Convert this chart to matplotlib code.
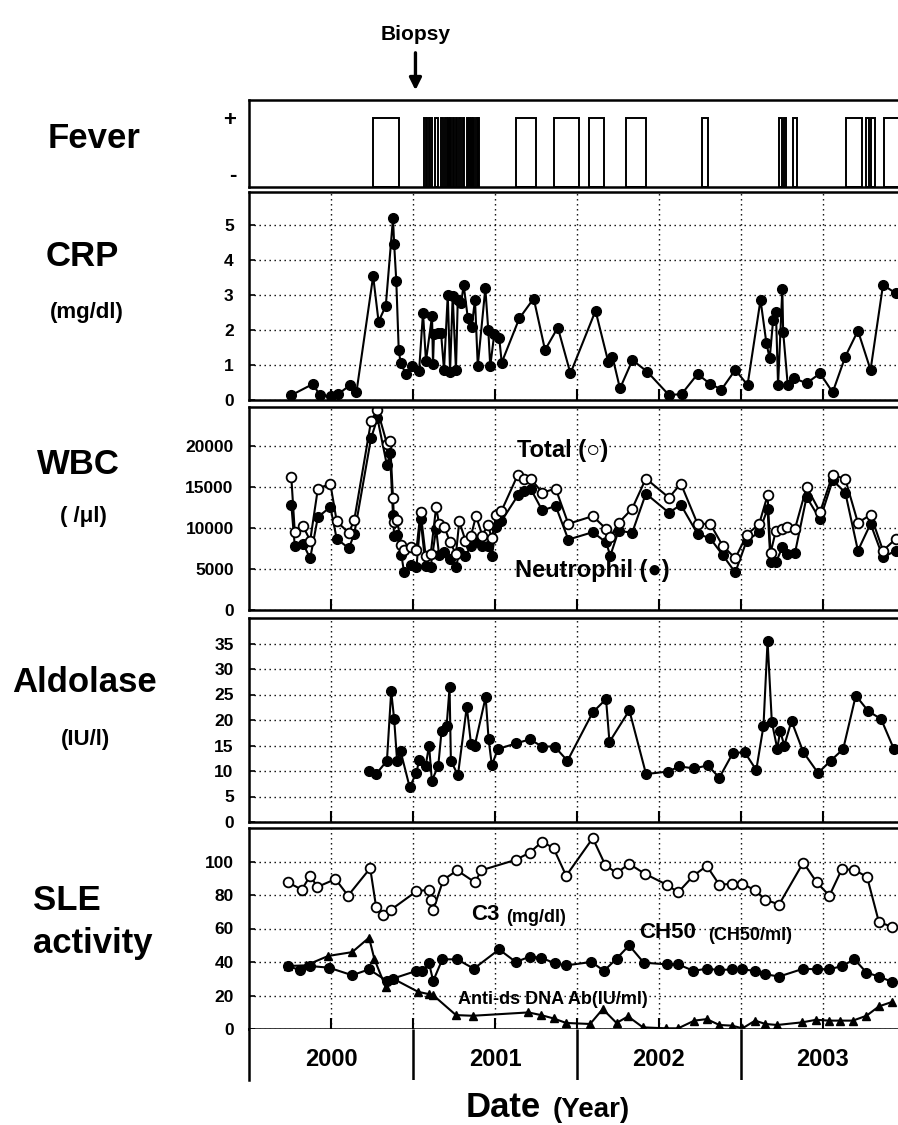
import matplotlib
matplotlib.use('Agg')
import matplotlib.pyplot as plt
from matplotlib.patches import FancyArrowPatch
import numpy as np

plt.rcParams['font.family'] = ['Liberation Sans', 'DejaVu Sans']
plt.rcParams['font.weight'] = 'bold'

# ---------------- data (decimal years) ----------------
fever_start = [2000.757, 2001.0689, 2001.0854, 2001.1037, 2001.1341, 2001.1707, 2001.1951,
               2001.2104, 2001.2226, 2001.2421, 2001.2622, 2001.2805, 2001.3030, 2001.3293,
               2001.3415, 2001.3537, 2001.3659, 2001.3860, 2001.3982, 2001.627, 2001.857,
               2002.075, 2002.300, 2002.761, 2003.234, 2003.260, 2003.316, 2003.641,
               2003.764, 2003.790, 2003.874]
fever_end = [2000.916, 2001.0793, 2001.0976, 2001.1159, 2001.1506, 2001.1811, 2001.2043,
             2001.2195, 2001.2287, 2001.2530, 2001.2713, 2001.2927, 2001.3128, 2001.3384,
             2001.3506, 2001.3628, 2001.3720, 2001.3933, 2001.4043, 2001.748, 2002.011,
             2002.167, 2002.421, 2002.796, 2003.248, 2003.277, 2003.344, 2003.738,
             2003.782, 2003.820, 2004.050]

crp_t = [2000.259, 2000.391, 2000.430, 2000.501, 2000.545, 2000.617, 2000.655, 2000.757, 2000.790,
         2000.834, 2000.878, 2000.885, 2000.898, 2000.913, 2000.925, 2000.957, 2000.996, 2001.037,
         2001.061, 2001.079, 2001.116, 2001.122, 2001.128, 2001.152, 2001.171, 2001.189, 2001.212,
         2001.226, 2001.242, 2001.262, 2001.273, 2001.293, 2001.309, 2001.334, 2001.358, 2001.378,
         2001.395, 2001.441, 2001.459, 2001.471, 2001.496, 2001.526, 2001.541, 2001.648, 2001.736,
         2001.805, 2001.883, 2001.960, 2002.113, 2002.190, 2002.216, 2002.262, 2002.338, 2002.428,
         2002.561, 2002.638, 2002.735, 2002.812, 2002.881, 2002.965, 2003.040, 2003.119, 2003.155,
         2003.175, 2003.196, 2003.213, 2003.226, 2003.252, 2003.257, 2003.285, 2003.324, 2003.400,
         2003.482, 2003.559, 2003.636, 2003.713, 2003.790, 2003.866, 2003.943]
crp_v = [0.14, 0.46, 0.14, 0.11, 0.17, 0.43, 0.22, 3.54, 2.24, 2.69, 5.19, 4.46, 3.41, 1.43, 1.05,
         0.74, 0.98, 0.82, 2.50, 1.11, 2.40, 1.02, 1.90, 1.92, 1.92, 0.86, 3.00, 0.81, 2.98, 0.86,
         2.86, 2.76, 3.28, 2.35, 2.10, 2.86, 0.98, 3.19, 2.00, 0.97, 1.90, 1.76, 1.07, 2.33, 2.90,
         1.43, 2.07, 0.76, 2.55, 1.10, 1.24, 0.33, 1.14, 0.81, 0.14, 0.17, 0.74, 0.46, 0.30, 0.86,
         0.43, 2.86, 1.62, 1.19, 2.29, 2.52, 0.43, 3.17, 1.95, 0.43, 0.62, 0.48, 0.76, 0.22, 1.24,
         1.98, 0.86, 3.29, 3.05]

wbc_t = [2000.258, 2000.279, 2000.330, 2000.373, 2000.420, 2000.496, 2000.535, 2000.609, 2000.642,
         2000.744, 2000.783, 2000.841, 2000.860, 2000.878, 2000.885, 2000.903, 2000.929, 2000.946,
         2000.988, 2001.021, 2001.046, 2001.077, 2001.108, 2001.141, 2001.159, 2001.192, 2001.226,
         2001.262, 2001.282, 2001.320, 2001.354, 2001.384, 2001.423, 2001.456, 2001.481, 2001.507,
         2001.538, 2001.640, 2001.679, 2001.717, 2001.788, 2001.870, 2001.947, 2002.096, 2002.177,
         2002.203, 2002.254, 2002.336, 2002.420, 2002.561, 2002.633, 2002.735, 2002.812, 2002.888,
         2002.965, 2003.035, 2003.111, 2003.162, 2003.180, 2003.213, 2003.252, 2003.283, 2003.329,
         2003.400, 2003.482, 2003.559, 2003.636, 2003.713, 2003.790, 2003.866, 2003.943]
wbc_total = [16200, 9570, 10200, 8470, 14800, 15400, 10800, 9400, 11000, 23000, 24400, 20300, 20600,
             13700, 10700, 11000, 7900, 7300, 7650, 7360, 12000, 6630, 6830, 12550, 10500, 10100,
             8260, 6830, 10800, 8470, 9080, 11450, 9080, 10390, 8750, 11530, 12020, 16520, 16030,
             16030, 14310, 14800, 10510, 11450, 9900, 8900, 10630, 12350, 16030, 13700, 15420, 10510,
             10510, 7850, 6300, 9160, 10510, 13990, 6950, 9690, 9820, 10100, 9900, 15010, 11940,
             16520, 15950, 10630, 11620, 7240, 8670]
wbc_neut = [12840, 7850, 8060, 6300, 11330, 12560, 8670, 7530, 9280, 20940, 23390, 17670, 19100,
            11530, 9080, 9200, 6710, 4580, 5480, 5190, 11100, 5400, 5300, 9900, 6710, 7030, 6210,
            5190, 7030, 6620, 7850, 8470, 7850, 7850, 6620, 10100, 10800, 13990, 14500, 14800,
            12150, 12680, 8590, 9490, 8260, 6620, 9690, 9400, 14190, 11860, 12840, 9280, 8750, 6710,
            4580, 8470, 9490, 12350, 5810, 5810, 7650, 6830, 6950, 13780, 11040, 15830, 14310, 7240,
            10510, 6420, 7240]

ald_t = [2000.732, 2000.775, 2000.841, 2000.867, 2000.885, 2000.903, 2000.924, 2000.980,
         2001.021, 2001.038, 2001.077, 2001.098, 2001.115, 2001.154, 2001.174, 2001.205, 2001.223,
         2001.231, 2001.274, 2001.328, 2001.354, 2001.376, 2001.443, 2001.461, 2001.481, 2001.517,
         2001.627, 2001.712, 2001.788, 2001.863, 2001.942, 2002.096, 2002.177, 2002.198, 2002.319,
         2002.421, 2002.556, 2002.625, 2002.715, 2002.797, 2002.868, 2002.950, 2003.022, 2003.093,
         2003.137, 2003.162, 2003.188, 2003.221, 2003.239, 2003.264, 2003.308, 2003.380, 2003.470,
         2003.546, 2003.623, 2003.700, 2003.777, 2003.854, 2003.931]
ald_v = [10.0, 9.4, 12.0, 25.6, 20.2, 12.0, 13.9, 6.8, 9.7, 12.2, 11.0, 15.0, 8.1, 11.0, 17.8, 18.8,
         26.4, 12.0, 9.2, 22.6, 15.2, 14.9, 24.5, 16.2, 11.1, 14.3, 15.4, 16.2, 14.8, 14.8, 12.0,
         21.5, 24.1, 15.7, 21.9, 9.4, 9.9, 10.9, 10.5, 11.1, 8.7, 13.5, 13.7, 10.2, 18.8, 35.5, 19.6,
         14.4, 17.8, 15.0, 19.8, 13.7, 9.6, 12.0, 14.3, 24.8, 21.7, 20.2, 14.4]

c3_t = [2000.238, 2000.322, 2000.373, 2000.417, 2000.527, 2000.604, 2000.739, 2000.775, 2000.816,
        2000.867, 2001.021, 2001.098, 2001.108, 2001.123, 2001.185, 2001.269, 2001.379, 2001.415,
        2001.627, 2001.712, 2001.788, 2001.857, 2001.934, 2002.096, 2002.172, 2002.241, 2002.318,
        2002.413, 2002.548, 2002.617, 2002.710, 2002.791, 2002.868, 2002.945, 2003.009, 2003.086,
        2003.149, 2003.232, 2003.380, 2003.462, 2003.539, 2003.615, 2003.692, 2003.769, 2003.841,
        2003.922]
c3_v = [87.5, 83.2, 91.5, 84.8, 89.5, 79.6, 96.0, 72.9, 68.3, 71.3, 82.2, 83.2, 77.2, 70.9, 89.1,
        94.7, 87.5, 94.7, 101.0, 105.3, 111.9, 107.9, 91.5, 113.9, 98.0, 93.1, 98.6, 92.7, 86.1,
        81.6, 91.5, 97.4, 86.1, 86.7, 86.7, 82.8, 77.2, 74.3, 99.4, 87.5, 79.6, 95.4, 95.0, 90.7,
        63.8, 61.0]

ch50_t = [2000.238, 2000.309, 2000.373, 2000.488, 2000.629, 2000.732, 2000.841, 2000.878,
          2001.021, 2001.057, 2001.098, 2001.123, 2001.179, 2001.269, 2001.371, 2001.525, 2001.627,
          2001.712, 2001.781, 2001.865, 2001.934, 2002.088, 2002.165, 2002.241, 2002.318, 2002.407,
          2002.548, 2002.617, 2002.710, 2002.791, 2002.868, 2002.945, 2003.009, 2003.086, 2003.149,
          2003.232, 2003.380, 2003.462, 2003.539, 2003.615, 2003.692, 2003.765, 2003.841, 2003.922]
ch50_v = [37.6, 35.2, 37.6, 36.6, 32.1, 35.6, 28.7, 30.1, 34.7, 34.7, 39.2, 28.7, 41.6, 41.6, 36.0,
          47.5, 40.0, 43.2, 42.6, 39.2, 38.0, 40.0, 34.7, 42.0, 49.9, 39.6, 38.6, 38.6, 34.7, 36.0,
          35.2, 35.6, 35.6, 34.7, 32.7, 31.3, 36.0, 35.6, 35.6, 37.6, 41.6, 33.7, 31.3, 28.1]

dna_t = [2000.238, 2000.348, 2000.483, 2000.629, 2000.732, 2000.765, 2000.834, 2000.878,
         2001.031, 2001.098, 2001.123, 2001.262, 2001.364, 2001.704, 2001.781, 2001.857, 2001.934,
         2002.080, 2002.157, 2002.241, 2002.311, 2002.402, 2002.541, 2002.617, 2002.715, 2002.791,
         2002.868, 2002.945, 2003.009, 2003.086, 2003.149, 2003.221, 2003.375, 2003.457, 2003.534,
         2003.605, 2003.682, 2003.765, 2003.841, 2003.922]
dna_v = [37.6, 38.0, 43.6, 45.9, 54.5, 41.6, 24.8, 30.1, 22.2, 20.8, 20.2, 8.3, 7.9, 9.9, 8.3, 6.3,
         3.6, 3.0, 11.9, 3.6, 7.5, 1.0, 0.4, 0.4, 5.0, 5.9, 2.4, 2.0, 0.4, 5.0, 3.0, 2.4, 4.0, 5.5,
         5.0, 5.0, 5.0, 7.9, 13.5, 16.2]

years = [2000, 2001, 2002, 2003]
half_years = [2000.5, 2001.0, 2001.5, 2002.0, 2002.5, 2003.0, 2003.5]
biopsy_date = 2001.015

crp_ticks = [0, 1, 2, 3, 4, 5]
wbc_ticks = [0, 5000, 10000, 15000, 20000]
ald_ticks = [0, 5, 10, 15, 20, 25, 30, 35]
sle_ticks = [0, 20, 40, 60, 80, 100]

# ---------------- layout ----------------
W, H = 898, 1125
fig = plt.figure(figsize=(W / 100, H / 100), dpi=100)
LEFT = 249
X0, X1 = 2000.0, 2000.0 + (W - LEFT) / 164.0


def fx(px):
    return px / W


def fy(py):
    return 1 - py / H


def rect(top, bottom):
    return [fx(LEFT), fy(bottom), 1 - fx(LEFT), (bottom - top) / H]


def style(ax, yticks, ylim):
    ax.set_xlim(X0, X1)
    ax.set_ylim(*ylim)
    ax.set_yticks(yticks)
    ax.set_yticklabels([str(t) for t in yticks])
    ax.set_xticks(half_years)
    ax.set_xticklabels([])
    ax.tick_params(axis='y', direction='in', length=4, width=1.2, pad=11, labelsize=12.5)
    ax.tick_params(axis='x', direction='in', length=8, width=1.5)
    ax.grid(True, linestyle=(0, (1, 2.6)), color='black', lw=1.0)
    ax.spines['right'].set_visible(False)
    for s in ['left', 'top', 'bottom']:
        ax.spines[s].set_linewidth(1.8)


LW = 1.5
MS = 7

# Fever
axf = fig.add_axes(rect(100, 187))
fmin, fmax = -0.26, 1.335
axf.set_xlim(X0, X1)
axf.set_ylim(fmin, fmax)
starts = np.array(fever_start)
ends = np.array(fever_end)
axf.bar(starts, 1 - fmin, width=ends - starts, bottom=fmin, align='edge',
        facecolor='white', edgecolor='black', lw=1.4)
axf.set_yticks([0, 1])
axf.set_yticklabels(['-', '+'], fontsize=16)
axf.set_xticks([])
axf.tick_params(axis='y', length=0, pad=9)
axf.spines['right'].set_visible(False)
for s in ['left', 'top', 'bottom']:
    axf.spines[s].set_linewidth(1.8)

# CRP
axc = fig.add_axes(rect(192, 400))
style(axc, crp_ticks, (0, 208 / 35))
axc.plot(crp_t, crp_v, '-o', color='black', lw=LW, ms=MS)

# WBC
axw = fig.add_axes(rect(407, 610))
style(axw, wbc_ticks, (0, 203 / 41 * 5000))
axw.plot(wbc_t, wbc_neut, '-o', color='black', lw=LW, ms=MS)
axw.plot(wbc_t, wbc_total, '-o', color='black', lw=LW, ms=MS, mfc='white', mec='black', mew=1.3)

# Aldolase
axa = fig.add_axes(rect(618, 822))
style(axa, ald_ticks, (0, 40))
axa.plot(ald_t, ald_v, '-o', color='black', lw=LW, ms=MS)

# SLE
axs = fig.add_axes(rect(828, 1029))
style(axs, sle_ticks, (0, 120))
axs.plot(dna_t, dna_v, '-^', color='black', lw=LW, ms=6.3)
axs.plot(ch50_t, ch50_v, '-o', color='black', lw=LW, ms=MS)
axs.plot(c3_t, c3_v, '-o', color='black', lw=LW, ms=MS, mfc='white', mec='black', mew=1.3)

# Year row
axy = fig.add_axes(rect(1029, 1080))
axy.set_xlim(X0, X1)
axy.set_ylim(0, 1)
axy.set_xticks([])
axy.set_yticks([])
for s in ['right', 'top', 'bottom']:
    axy.spines[s].set_visible(False)
axy.spines['left'].set_linewidth(1.8)
axy.vlines(years[1:], 0, 1, color='black', lw=1.8)
for y in years:
    axy.text(y + 0.5, 0.40, str(y), ha='center', va='center', fontsize=17)

# Left labels
big = 25
fig.text(fx(94), fy(138), 'Fever', ha='center', va='center', fontsize=big)
fig.text(fx(82), fy(257), 'CRP', ha='center', va='center', fontsize=big)
fig.text(fx(87), fy(313), '(mg/dl)', ha='center', va='center', fontsize=16)
fig.text(fx(78), fy(465), 'WBC', ha='center', va='center', fontsize=big)
fig.text(fx(83), fy(517), '( /\u03bcl)', ha='center', va='center', fontsize=16)
fig.text(fx(85), fy(683), 'Aldolase', ha='center', va='center', fontsize=big)
fig.text(fx(86), fy(740), '(IU/l)', ha='center', va='center', fontsize=16)
fig.text(fx(33), fy(900), 'SLE', ha='left', va='center', fontsize=big)
fig.text(fx(33), fy(943), 'activity', ha='left', va='center', fontsize=big)

# In-panel labels
fig.text(fx(517), fy(450), 'Total (\u25cb)', ha='left', va='center', fontsize=17)
fig.text(fx(515), fy(570), 'Neutrophil (\u25cf)', ha='left', va='center', fontsize=17)
fig.text(fx(471), fy(915), 'C3', ha='left', va='center', fontsize=16)
fig.text(fx(506), fy(917), '(mg/dl)', ha='left', va='center', fontsize=13)
fig.text(fx(639), fy(933), 'CH50', ha='left', va='center', fontsize=16)
fig.text(fx(708), fy(935), '(CH50/ml)', ha='left', va='center', fontsize=13)
fig.text(fx(458), fy(1000), 'Anti-ds DNA Ab(IU/ml)', ha='left', va='center', fontsize=13)

# Biopsy arrow
xb = fx(LEFT) + (biopsy_date - X0) / (X1 - X0) * (1 - fx(LEFT))
fig.text(xb, fy(34), 'Biopsy', ha='center', va='center', fontsize=15)
fig.add_artist(FancyArrowPatch((xb, fy(50)), (xb, fy(93)), transform=fig.transFigure,
                               arrowstyle='-|>', mutation_scale=18, lw=2.4, color='black'))

# Axis title
fig.text(fx(466), fy(1117), 'Date', ha='left', va='baseline', fontsize=25)
fig.text(fx(553), fy(1117), '(Year)', ha='left', va='baseline', fontsize=20)

fig.savefig('out.png', dpi=100, facecolor='white')
